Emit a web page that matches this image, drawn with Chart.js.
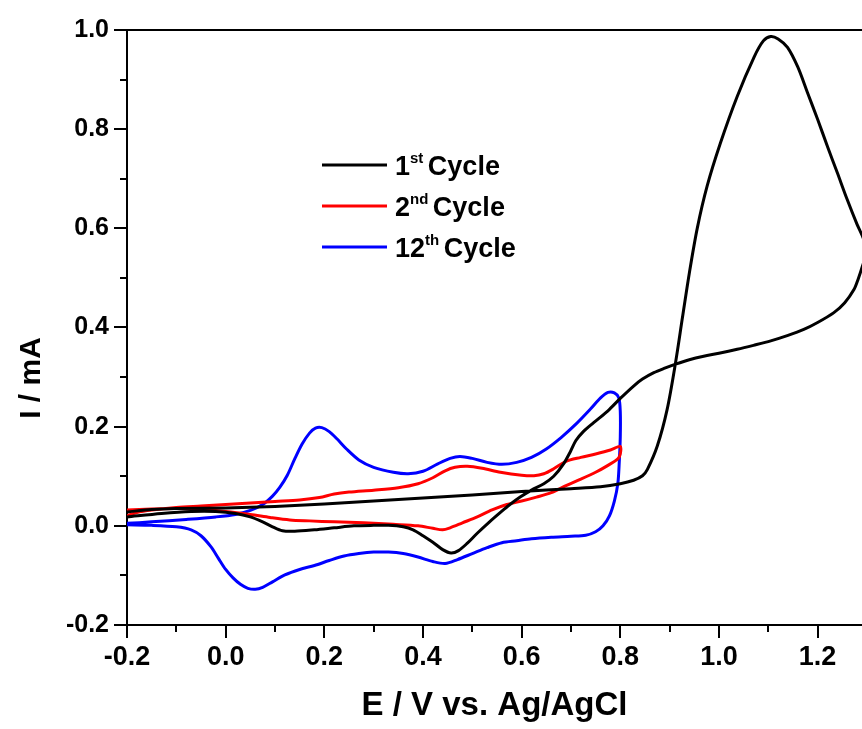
<!DOCTYPE html>
<html>
<head>
<meta charset="utf-8">
<script src="https://cdn.jsdelivr.net/npm/chart.js@4.4.1/dist/chart.umd.min.js"></script>
<style>
  body { margin: 0; background: #fff; }
  #chart { display: block; }
</style>
</head>
<body>
<canvas id="chart" width="862" height="729"></canvas>
<script>
// potential (V vs Ag/AgCl) and current (mA), in scan order
const cycle1E = [-0.2, -0.15, -0.1, 0.0, 0.1, 0.2, 0.3, 0.4, 0.5, 0.6, 0.7, 0.76, 0.8, 0.827, 0.845, 0.855, 0.875, 0.895, 0.912, 0.926, 0.94, 0.956, 0.976, 1.003, 1.037, 1.071, 1.09, 1.105, 1.12, 1.139, 1.16, 1.179, 1.2, 1.22, 1.24, 1.26, 1.28, 1.291, 1.30,
  1.291, 1.282, 1.274, 1.255, 1.233, 1.2, 1.172, 1.14, 1.105, 1.07, 1.037, 1.0, 0.969, 0.94, 0.912, 0.89, 0.868, 0.845, 0.827, 0.8, 0.775, 0.746, 0.725, 0.71, 0.699, 0.685, 0.665, 0.645, 0.62, 0.597, 0.575, 0.557, 0.535, 0.51, 0.49, 0.472, 0.457, 0.44, 0.42, 0.4, 0.38, 0.36, 0.33, 0.3, 0.26, 0.22, 0.18, 0.14, 0.115, 0.095, 0.075, 0.05, 0.02, -0.02, -0.07, -0.13, -0.2];
const cycle1I = [0.028, 0.033, 0.035, 0.036, 0.039, 0.044, 0.050, 0.056, 0.062, 0.069, 0.075, 0.079, 0.085, 0.092, 0.101, 0.114, 0.161, 0.235, 0.329, 0.420, 0.510, 0.600, 0.685, 0.772, 0.866, 0.945, 0.978, 0.987, 0.982, 0.965, 0.925, 0.875, 0.820, 0.765, 0.712, 0.658, 0.608, 0.584, 0.558,
  0.524, 0.497, 0.477, 0.450, 0.430, 0.410, 0.396, 0.384, 0.373, 0.364, 0.356, 0.348, 0.342, 0.335, 0.326, 0.318, 0.309, 0.296, 0.282, 0.257, 0.232, 0.208, 0.190, 0.172, 0.150, 0.125, 0.100, 0.085, 0.072, 0.058, 0.042, 0.027, 0.008, -0.015, -0.035, -0.050, -0.055, -0.048, -0.033, -0.020, -0.008, -0.002, 0.001, 0.001, 0.0, -0.004, -0.008, -0.011, -0.010, -0.002, 0.008, 0.018, 0.025, 0.029, 0.029, 0.025, 0.018];

const cycle2E = [-0.2, -0.18, -0.15, -0.1, -0.05, 0.0, 0.05, 0.1, 0.15, 0.19, 0.22, 0.25, 0.3, 0.35, 0.39, 0.42, 0.445, 0.465, 0.49, 0.52, 0.557, 0.6, 0.625, 0.645, 0.665, 0.69, 0.72, 0.75, 0.78, 0.8,
  0.8, 0.795, 0.775, 0.75, 0.72, 0.69, 0.66, 0.63, 0.6, 0.57, 0.54, 0.51, 0.48, 0.455, 0.44, 0.42, 0.39, 0.34, 0.28, 0.22, 0.17, 0.13, 0.09, 0.05, 0.0, -0.05, -0.1, -0.15, -0.2];
const cycle2I = [0.020, 0.027, 0.032, 0.037, 0.040, 0.043, 0.046, 0.049, 0.052, 0.057, 0.064, 0.068, 0.072, 0.077, 0.085, 0.097, 0.111, 0.118, 0.120, 0.116, 0.108, 0.102, 0.101, 0.105, 0.115, 0.130, 0.138, 0.145, 0.153, 0.160,
  0.145, 0.135, 0.122, 0.108, 0.094, 0.081, 0.067, 0.058, 0.050, 0.043, 0.032, 0.018, 0.006, -0.004, -0.008, -0.005, 0.0, 0.003, 0.006, 0.008, 0.010, 0.012, 0.017, 0.023, 0.029, 0.033, 0.035, 0.034, 0.032];

const cycle12E = [-0.2, -0.15, -0.08, -0.02, 0.02, 0.05, 0.075, 0.095, 0.11, 0.125, 0.14, 0.155, 0.17, 0.182, 0.195, 0.21, 0.225, 0.245, 0.27, 0.3, 0.34, 0.37, 0.4, 0.43, 0.455, 0.475, 0.5, 0.53, 0.56, 0.59, 0.62, 0.65, 0.68, 0.71, 0.74, 0.76, 0.775, 0.788, 0.797, 0.8,
  0.8, 0.798, 0.795, 0.788, 0.778, 0.765, 0.75, 0.73, 0.7, 0.66, 0.62, 0.59, 0.56, 0.53, 0.5, 0.47, 0.445, 0.42, 0.39, 0.36, 0.33, 0.3, 0.27, 0.24, 0.21, 0.18, 0.15, 0.12, 0.095, 0.075, 0.06, 0.045, 0.03, 0.015, 0.0, -0.015, -0.03, -0.05, -0.07, -0.1, -0.15, -0.2];
const cycle12I = [0.005, 0.008, 0.013, 0.018, 0.023, 0.031, 0.043, 0.060, 0.078, 0.102, 0.135, 0.165, 0.187, 0.197, 0.198, 0.190, 0.176, 0.155, 0.133, 0.118, 0.108, 0.105, 0.110, 0.125, 0.136, 0.140, 0.136, 0.128, 0.124, 0.128, 0.138, 0.155, 0.178, 0.205, 0.236, 0.258, 0.269, 0.268, 0.258, 0.230,
  0.180, 0.130, 0.085, 0.050, 0.020, 0.000, -0.012, -0.019, -0.021, -0.023, -0.026, -0.030, -0.034, -0.044, -0.056, -0.068, -0.076, -0.072, -0.063, -0.056, -0.053, -0.053, -0.056, -0.061, -0.070, -0.080, -0.088, -0.099, -0.113, -0.124, -0.128, -0.126, -0.118, -0.105, -0.088, -0.065, -0.042, -0.020, -0.008, -0.002, 0.001, 0.002];

const xTicks = [-0.2, 0.0, 0.2, 0.4, 0.6, 0.8, 1.0, 1.2];
const xMinor = [-0.1, 0.1, 0.3, 0.5, 0.7, 0.9, 1.1];
const yTicks = [-0.2, 0.0, 0.2, 0.4, 0.6, 0.8, 1.0];
const yMinor = [-0.1, 0.1, 0.3, 0.5, 0.7, 0.9];

const legendItems = [
  { num: '1', sup: 'st', rest: ' Cycle', color: '#000000' },
  { num: '2', sup: 'nd', rest: ' Cycle', color: '#ff0000' },
  { num: '12', sup: 'th', rest: ' Cycle', color: '#0000ff' }
];

function pts(xs, ys) {
  return xs.map((x, i) => ({ x: x, y: ys[i] }));
}

const FONT = '"Liberation Sans", Arial, sans-serif';

// minor ticks, top frame line, y title and the legend
const extras = {
  id: 'extras',
  afterDraw(chart) {
    const ctx = chart.ctx;
    const xs = chart.scales.x, ys = chart.scales.y;
    const area = chart.chartArea;
    ctx.save();
    ctx.strokeStyle = '#000';
    ctx.lineWidth = 2;
    ctx.beginPath();
    xMinor.forEach(v => {
      const p = Math.round(xs.getPixelForValue(v));
      ctx.moveTo(p, area.bottom);
      ctx.lineTo(p, area.bottom + 7);
    });
    yMinor.forEach(v => {
      const p = Math.round(ys.getPixelForValue(v));
      ctx.moveTo(area.left, p);
      ctx.lineTo(area.left - 7, p);
    });
    ctx.moveTo(area.left - 1, area.top);
    ctx.lineTo(chart.width, area.top);
    ctx.stroke();

    // y axis title, sits a bit below the middle of the axis
    ctx.save();
    ctx.translate(32, 378);
    ctx.rotate(-Math.PI / 2);
    ctx.fillStyle = '#000';
    ctx.font = 'bold 30px ' + FONT;
    ctx.textAlign = 'center';
    ctx.textBaseline = 'middle';
    ctx.fillText('I / mA', 0, 0);
    ctx.restore();

    // legend
    let y = 165;
    legendItems.forEach(item => {
      ctx.strokeStyle = item.color;
      ctx.lineWidth = 3;
      ctx.beginPath();
      ctx.moveTo(322, y);
      ctx.lineTo(387, y);
      ctx.stroke();
      ctx.fillStyle = '#000';
      ctx.textBaseline = 'alphabetic';
      ctx.textAlign = 'left';
      let x = 395;
      ctx.font = 'bold 27px ' + FONT;
      ctx.fillText(item.num, x, y + 10);
      x += ctx.measureText(item.num).width;
      ctx.font = 'bold 15px ' + FONT;
      ctx.fillText(item.sup, x, y - 2);
      x += ctx.measureText(item.sup).width - 3;
      ctx.font = 'bold 27px ' + FONT;
      ctx.fillText(item.rest, x, y + 10);
      y += 41;
    });
    ctx.restore();
  }
};

const ctx = document.getElementById('chart').getContext('2d');
const chart = new Chart(ctx, {
  type: 'scatter',
  data: {
    datasets: [
      { label: '1st Cycle', data: pts(cycle1E, cycle1I), borderColor: '#000000' },
      { label: '2nd Cycle', data: pts(cycle2E, cycle2I), borderColor: '#ff0000' },
      { label: '12th Cycle', data: pts(cycle12E, cycle12I), borderColor: '#0000ff' }
    ]
  },
  options: {
    responsive: false,
    animation: false,
    devicePixelRatio: 1,
    showLine: true,
    datasets: {
      scatter: { borderWidth: 3, pointRadius: 0, tension: 0.3, fill: false }
    },
    layout: { padding: { top: 30, right: 0, bottom: 0, left: 0 } },
    plugins: {
      legend: { display: false },
      tooltip: { enabled: false }
    },
    scales: {
      x: {
        type: 'linear',
        min: -0.2,
        max: 1.29,
        afterBuildTicks: scale => { scale.ticks = xTicks.map(v => ({ value: v })); },
        afterFit: scale => { scale.height = 104; },
        border: { display: true, color: '#000', width: 2 },
        grid: { display: true, drawOnChartArea: false, drawTicks: true, tickLength: 13, color: '#000', lineWidth: 2 },
        ticks: {
          color: '#000',
          padding: 3,
          font: { family: FONT, size: 27, weight: 'bold' },
          callback: v => v.toFixed(1)
        },
        title: {
          display: true,
          text: 'E / V vs. Ag/AgCl',
          color: '#000',
          padding: { top: 0, bottom: 3 },
          font: { family: FONT, size: 33, weight: 'bold' }
        }
      },
      y: {
        type: 'linear',
        min: -0.2,
        max: 1.0,
        afterBuildTicks: scale => { scale.ticks = yTicks.map(v => ({ value: v })); },
        afterFit: scale => { scale.width = 127; },
        border: { display: true, color: '#000', width: 2 },
        grid: { display: true, drawOnChartArea: false, drawTicks: true, tickLength: 13, color: '#000', lineWidth: 2 },
        ticks: {
          color: '#000',
          padding: 5,
          font: { family: FONT, size: 25, weight: 'bold' },
          callback: v => v.toFixed(1)
        },
        title: { display: false }
      }
    }
  },
  plugins: [extras]
});
</script>
</body>
</html>
